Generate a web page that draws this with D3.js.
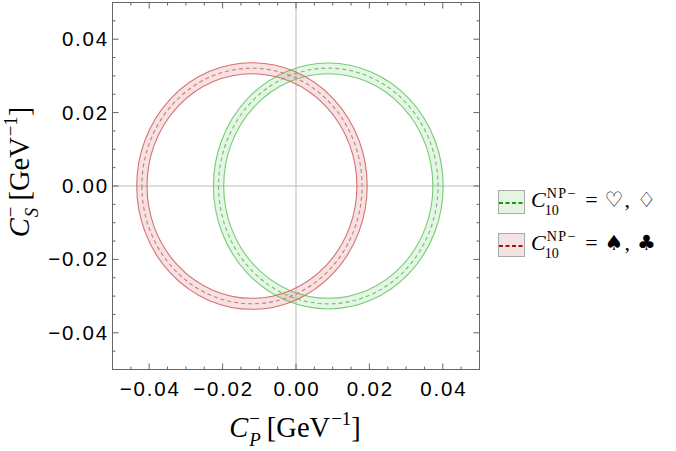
<!DOCTYPE html>
<html>
<head>
<meta charset="utf-8">
<script src="https://cdn.jsdelivr.net/npm/d3@7"></script>
<style>
  body { margin: 0; background: #fff; }
  svg { display: block; }
</style>
</head>
<body>
<svg id="chart" width="676" height="451"></svg>
<script>
// ring data: centre and semi-axes (dashed middle, inner and outer edge) in GeV^-1
var ringNames = ["heartDiamond", "spadeClub"];
var centerCP = [0.0088, -0.0120];
var centerCS = [0.0, 0.0];
var midRx = [0.0299, 0.0300];
var midRy = [0.0321, 0.0321];
var innerRx = [0.0285, 0.0286];
var innerRy = [0.0306, 0.0306];
var outerRx = [0.0313, 0.0314];
var outerRy = [0.0335, 0.0336];

var majorTicks = [-0.04, -0.02, 0.00, 0.02, 0.04];
var minorTicks = d3.range(-0.05, 0.0501, 0.005);
var legendSymbols = [["\u2661", "\u2662"], ["\u2660", "\u2663"]];

var ringStroke = ["#77cc77", "#d27272"];
var ringFill = ["rgba(90,200,90,0.16)", "rgba(215,90,90,0.18)"];
var ringDash = ["#7cb87c", "#c27f7f"];
var legendFill = ["#e4f5e1", "#f5e2e2"];
var legendDash = ["#119911", "#aa1111"];

var svg = d3.select("#chart");
var x = d3.scaleLinear().domain([-0.05, 0.05]).range([112.5, 479.5]);
var y = d3.scaleLinear().domain([-0.05, 0.05]).range([369.5, 2.5]);
var fmt = d3.format(".2f");

// zero lines
svg.append("line").attr("x1", x(0)).attr("x2", x(0)).attr("y1", y(0.05)).attr("y2", y(-0.05))
  .attr("stroke", "#bbb").attr("stroke-width", 1);
svg.append("line").attr("x1", x(-0.05)).attr("x2", x(0.05)).attr("y1", y(0)).attr("y2", y(0))
  .attr("stroke", "#bbb").attr("stroke-width", 1);

function ellipsePath(cx, cy, rx, ry) {
  var px = x(cx), py = y(cy);
  var ax = x(cx + rx) - px, ay = py - y(cy + ry);
  return "M" + (px - ax) + "," + py +
    "A" + ax + "," + ay + " 0 1,0 " + (px + ax) + "," + py +
    "A" + ax + "," + ay + " 0 1,0 " + (px - ax) + "," + py + "Z";
}

var rings = svg.append("g");
ringNames.forEach(function (name, i) {
  var g = rings.append("g").attr("class", name);
  g.append("path")
    .attr("d", ellipsePath(centerCP[i], centerCS[i], outerRx[i], outerRy[i]) +
      ellipsePath(centerCP[i], centerCS[i], innerRx[i], innerRy[i]))
    .attr("fill-rule", "evenodd")
    .attr("fill", ringFill[i]);
  [[outerRx[i], outerRy[i]], [innerRx[i], innerRy[i]]].forEach(function (r) {
    g.append("path").attr("d", ellipsePath(centerCP[i], centerCS[i], r[0], r[1]))
      .attr("fill", "none").attr("stroke", ringStroke[i]).attr("stroke-width", 1.1);
  });
  g.append("path").attr("d", ellipsePath(centerCP[i], centerCS[i], midRx[i], midRy[i]))
    .attr("fill", "none").attr("stroke", ringDash[i]).attr("stroke-width", 1.1)
    .attr("stroke-dasharray", "4,3");
});

// frame and ticks
var frame = svg.append("g").attr("stroke", "#666").attr("stroke-width", 1);
frame.append("rect").attr("x", x(-0.05)).attr("y", y(0.05))
  .attr("width", x(0.05) - x(-0.05)).attr("height", y(-0.05) - y(0.05)).attr("fill", "none");

function isMajor(v) { return majorTicks.some(function (m) { return Math.abs(m - v) < 1e-9; }); }
minorTicks.forEach(function (v) {
  var len = isMajor(v) ? 6 : 3;
  frame.append("line").attr("x1", x(v)).attr("x2", x(v)).attr("y1", y(-0.05)).attr("y2", y(-0.05) - len);
  frame.append("line").attr("x1", x(v)).attr("x2", x(v)).attr("y1", y(0.05)).attr("y2", y(0.05) + len);
  frame.append("line").attr("y1", y(v)).attr("y2", y(v)).attr("x1", x(-0.05)).attr("x2", x(-0.05) + len);
  frame.append("line").attr("y1", y(v)).attr("y2", y(v)).attr("x1", x(0.05)).attr("x2", x(0.05) - len);
});

var tickFont = "'Liberation Sans', Arial, sans-serif";
svg.append("g").selectAll("text").data(majorTicks).join("text")
  .attr("x", function (d) { return x(d) + 1; }).attr("y", 396)
  .attr("text-anchor", "middle").attr("font-family", tickFont).attr("font-size", 20.5)
  .attr("letter-spacing", 1.8).text(function (d) { return fmt(d); });
svg.append("g").selectAll("text").data(majorTicks).join("text")
  .attr("x", 109).attr("y", function (d) { return y(d) + 7; })
  .attr("text-anchor", "end").attr("font-family", tickFont).attr("font-size", 20.5)
  .attr("letter-spacing", 1.8).text(function (d) { return fmt(d); });

// math-style labels built from pieces with stacked sub/superscripts
var serif = "'Liberation Serif', 'Times New Roman', serif";
function mathLabel(g, pieces, size, opt) {
  opt = opt || {};
  var cx = 0, sSize = size * (opt.scale || 0.68);
  var supY = -size * (opt.supY || 0.36), subY = size * (opt.subY || 0.26);
  pieces.forEach(function (p) {
    var t = g.append("text").attr("x", cx).attr("y", 0)
      .attr("font-family", p.family || serif)
      .attr("font-size", p.size || size).attr("font-style", p.it ? "italic" : null)
      .attr("fill", "#000").text(p.t);
    cx += t.node().getComputedTextLength() + (p.it ? 1 : 0);
    var w = 0;
    if (p.sup) {
      var s = g.append("text").attr("x", cx + (p.supDx || 0)).attr("y", supY)
        .attr("font-family", serif).attr("font-size", sSize)
        .attr("letter-spacing", opt.supSpacing || null).text(p.sup);
      w = Math.max(w, s.node().getComputedTextLength() + (p.supDx || 0));
    }
    if (p.sub) {
      var b = g.append("text").attr("x", cx - (p.subDx || 0)).attr("y", subY)
        .attr("font-family", serif).attr("font-size", sSize)
        .attr("font-style", p.subIt ? "italic" : null).text(p.sub);
      w = Math.max(w, b.node().getComputedTextLength() - (p.subDx || 0));
    }
    cx += w + (p.gap || 0);
  });
  return cx;
}

var titleOpt = { scale: 0.66, supY: 0.43, subY: 0.33 };
var xt = svg.append("g");
var xw = mathLabel(xt, [
  { t: "C", it: true, sup: "\u2212", sub: "P", subIt: true, subDx: 0, gap: 6 },
  { t: "[GeV", sup: "\u22121", supDx: 1 },
  { t: "]" }
], 28.5, titleOpt);
xt.attr("transform", "translate(" + (295 - xw / 2) + ",437)");

var yt = svg.append("g");
var yw = mathLabel(yt, [
  { t: "C", it: true, sup: "\u2212", sub: "S", subIt: true, subDx: 0, gap: 6 },
  { t: "[GeV", sup: "\u22121", supDx: 1 },
  { t: "]" }
], 28.5, titleOpt);
yt.attr("transform", "translate(29," + (172 + yw / 2) + ") rotate(-90)");

// legend
var symFont = "'DejaVu Sans', sans-serif";
var legend = svg.append("g");
ringNames.forEach(function (name, i) {
  var top = 190 + i * 43;
  legend.append("rect").attr("x", 498.5).attr("y", top + 0.5).attr("width", 26).attr("height", 23)
    .attr("fill", legendFill[i]).attr("stroke", "#aaa").attr("stroke-width", 1);
  legend.append("line").attr("x1", 499).attr("x2", 524).attr("y1", top + 13).attr("y2", top + 13)
    .attr("stroke", legendDash[i]).attr("stroke-width", 1.8).attr("stroke-dasharray", "4,2.5");
  var lg = legend.append("g").attr("transform", "translate(531," + (top + 17) + ")");
  mathLabel(lg, [
    { t: "C", it: true, sup: "NP\u2212", sub: "10", subDx: 2, gap: 8 },
    { t: "=", gap: 7 },
    { t: legendSymbols[i][0], family: symFont, size: 21, gap: 1 },
    { t: ",", gap: 7 },
    { t: legendSymbols[i][1], family: symFont, size: 21 }
  ], 22, { scale: 0.64, supY: 0.42, subY: 0.38, supSpacing: 1.5 });
});
</script>
</body>
</html>
